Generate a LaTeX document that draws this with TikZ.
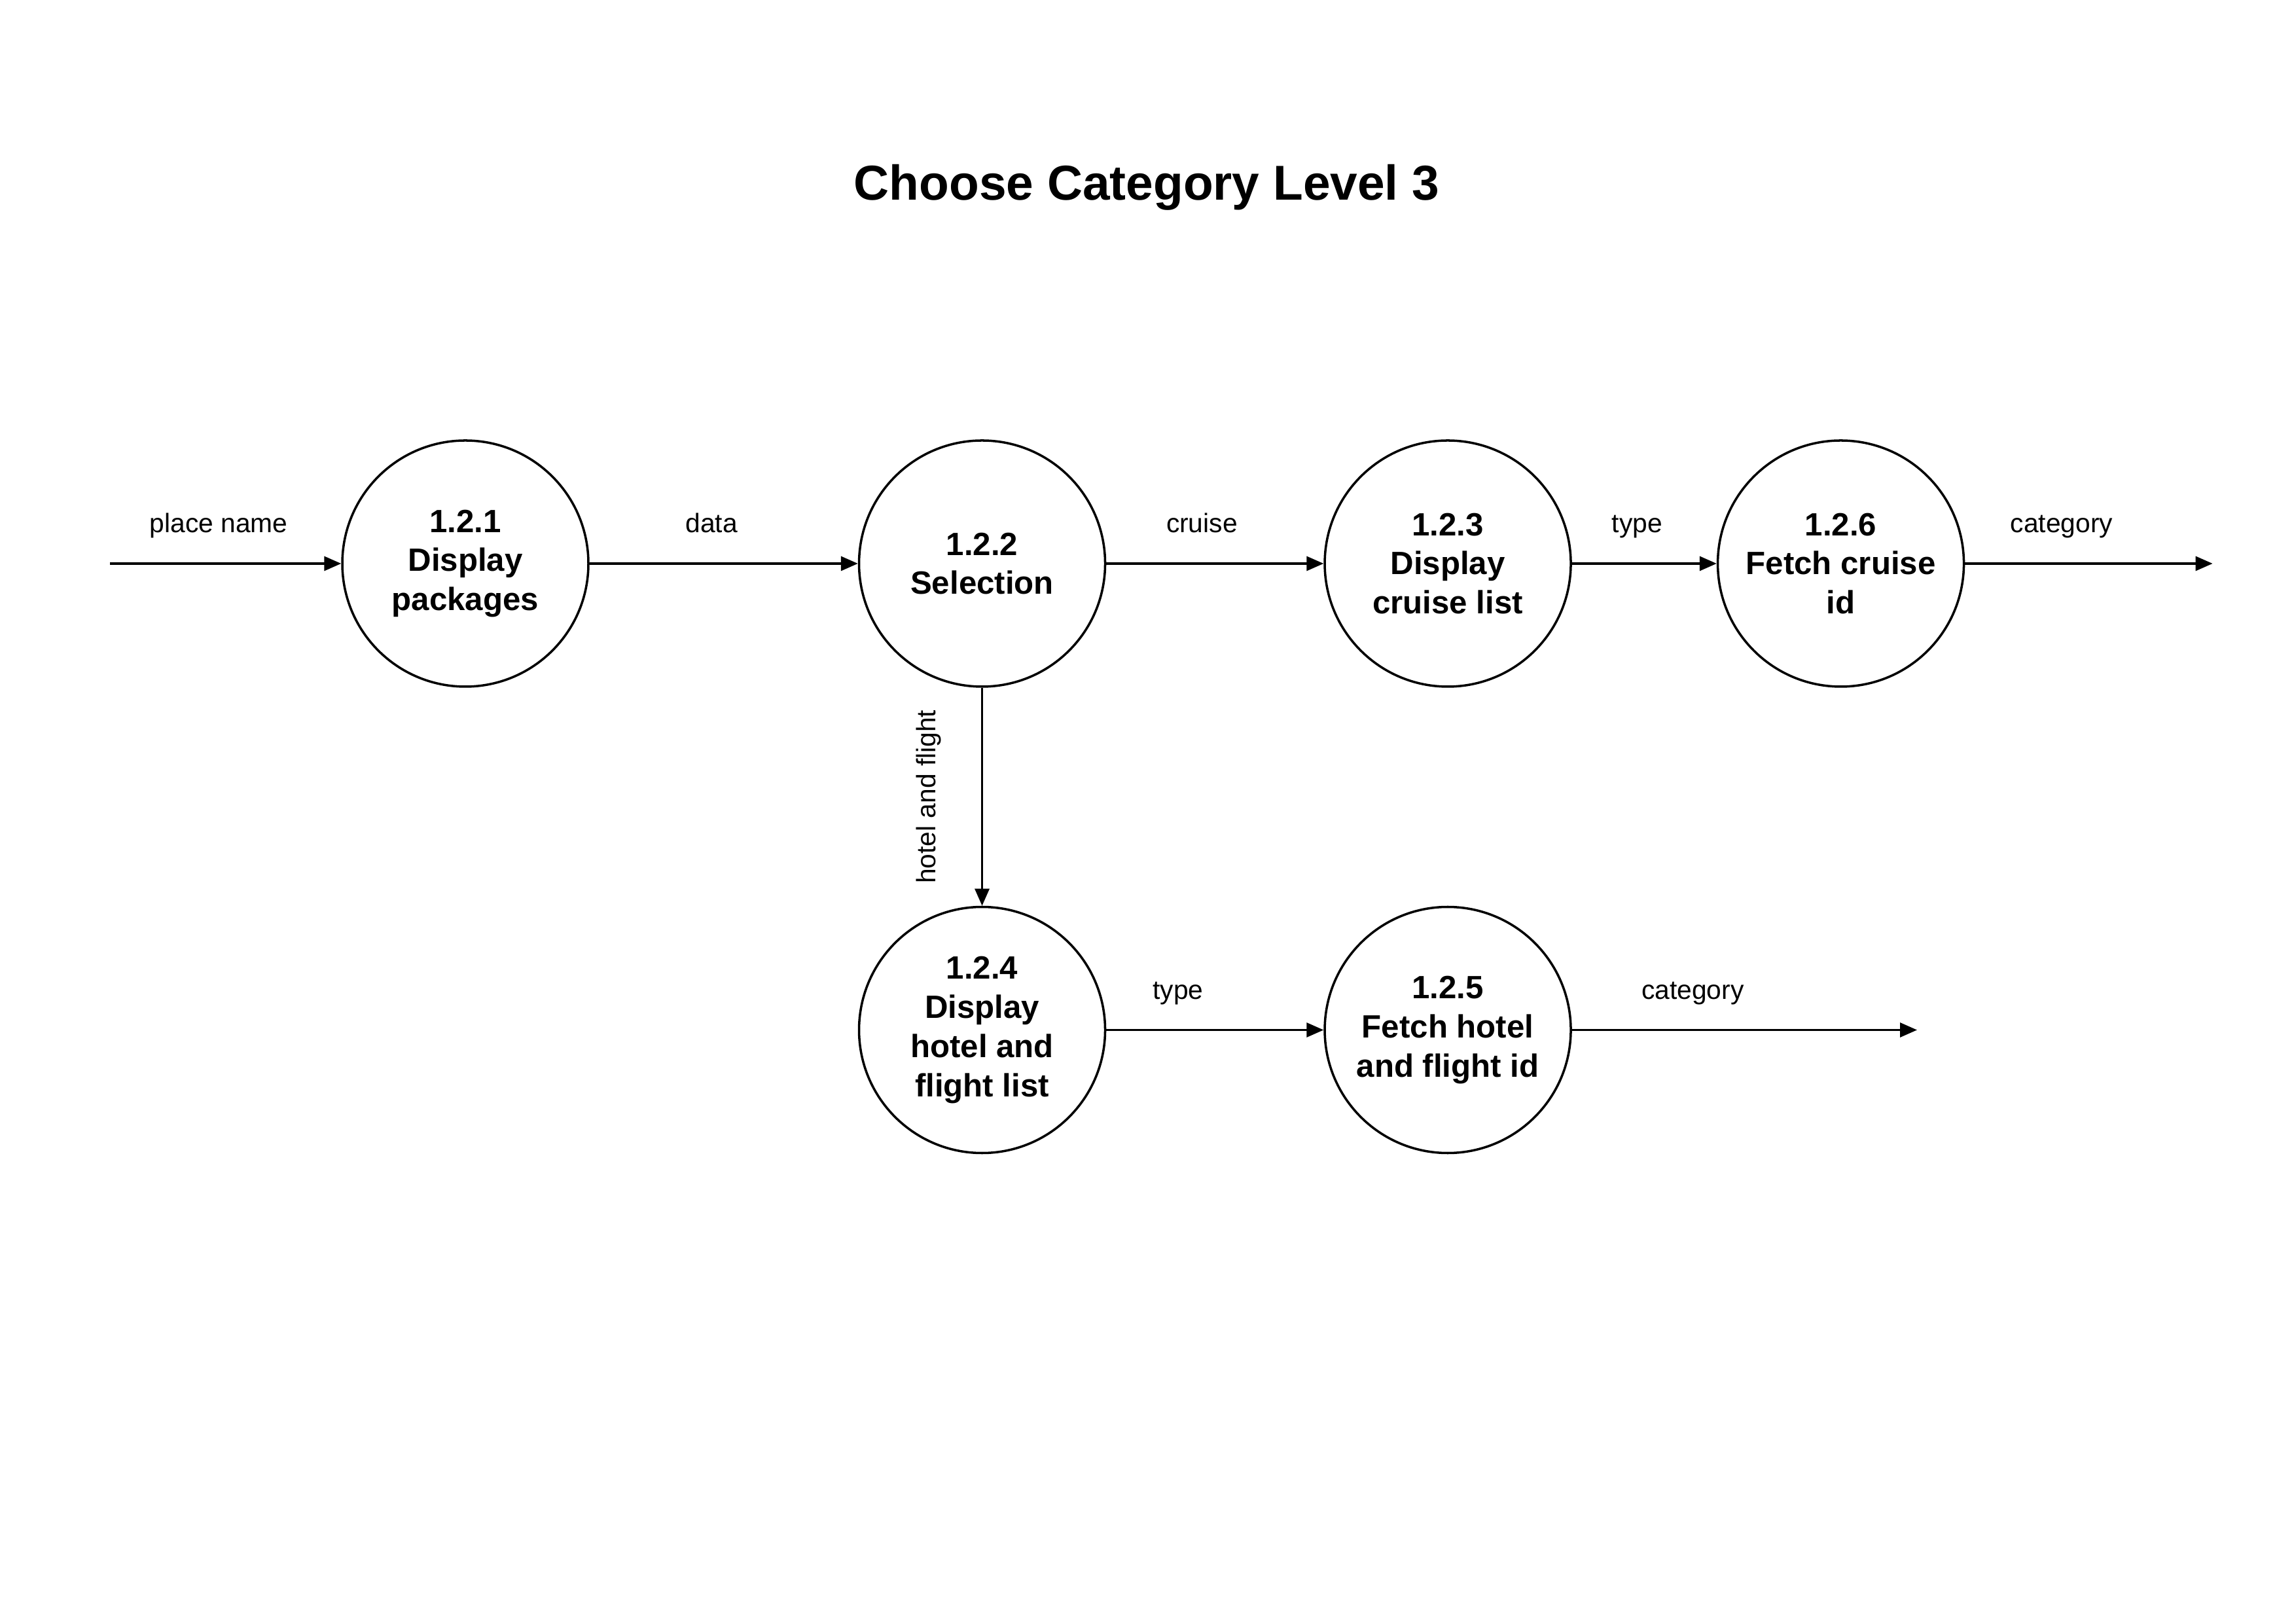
\documentclass[tikz,border=0pt]{standalone}
\usepackage{fontspec}
\setmainfont{Liberation Sans}
\usetikzlibrary{arrows.meta, positioning}

\begin{document}
\begin{tikzpicture}[
  PC/.style ={draw, circle, line width=1pt, minimum size=3.76cm, inner sep=0pt,
              align=center, font=\fontsize{14}{17}\selectfont\bfseries},
  FL/.style ={-{Triangle[length=2.6mm, width=2.2mm]}, line width=0.9pt},
  LB/.style ={font=\fontsize{11.6}{14}\selectfont, anchor=base, yshift=4.7mm},
  TT/.style ={font=\fontsize{21.3}{25}\selectfont\bfseries},
  node distance=3.32cm
]
  \useasboundingbox (0,0) rectangle (35.05,24.80);

  \node[TT] (title) at (17.52,21.94) {Choose Category Level 3};

  % processes
  \node[PC] (p121) at (7.11,16.19) {1.2.1\\Display\\packages};
  \node[PC, right=4.10cm of p121] (p122) {1.2.2\\Selection};
  \node[PC, right=of p122] (p123) {1.2.3\\Display\\cruise list};
  \node[PC, right=2.21cm of p123] (p126) {1.2.6\\Fetch cruise\\id};
  \node[PC, below=3.33cm of p122] (p124) {1.2.4\\Display\\hotel and\\flight list};
  \node[PC, right=of p124] (p125) {1.2.5\\Fetch hotel\\and flight id};

  % free ends
  \path (p121) ++(-5.43,0) coordinate (src);
  \path (p126) ++(5.68,0)  coordinate (out1);
  \path (p125) ++(7.17,0)  coordinate (out2);

  % flows
  \draw[FL] (src)  -- node[LB, pos=0.47] {place name} (p121);
  \draw[FL] (p121) -- node[LB, pos=0.455] {data} (p122);
  \draw[FL] (p122) -- node[LB, pos=0.44] {cruise} (p123);
  \draw[FL] (p123) -- node[LB, pos=0.45] {type} (p126);
  \draw[FL] (p126) -- node[LB, pos=0.39] {category} (out1);
  \draw[FL] (p122) -- node[font=\fontsize{11.6}{14}\selectfont, anchor=base,
                           xshift=-7.1mm, rotate=90] {hotel and flight} (p124);
  \draw[FL] (p124) -- node[LB, pos=0.33] {type} (p125);
  \draw[FL] (p125) -- node[LB, pos=0.35] {category} (out2);
\end{tikzpicture}
\end{document}
